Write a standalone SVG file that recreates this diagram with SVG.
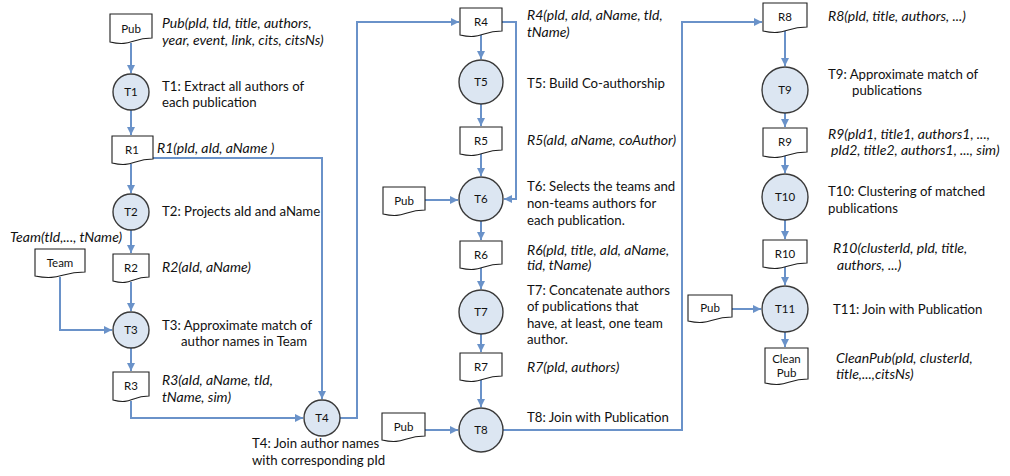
<svg xmlns="http://www.w3.org/2000/svg" width="1010" height="476" viewBox="0 0 1010 476">
<defs>
<marker id="ah" markerUnits="userSpaceOnUse" markerWidth="9" markerHeight="9" refX="8" refY="4.5" orient="auto">
<path d="M0,0.5 L8,4.5 L0,8.5 Z" fill="#6a92c9"/>
</marker>
<style>
.doc{fill:#ffffff;stroke:#1e1e1e;stroke-width:1.1}
.proc{fill:#dce6f2;stroke:#3a3a3a;stroke-width:1.4}
.con{fill:none;stroke:#6a92c9;stroke-width:2;marker-end:url(#ah)}
.nl{font-family:Lato,"Liberation Sans",sans-serif;font-size:11.5px;fill:#111;text-anchor:middle}
.lb{font-family:Lato,"Liberation Sans",sans-serif;font-size:13.2px;fill:#111}
.it{font-style:italic;font-size:14px}
</style>
</defs>
<rect width="1010" height="476" fill="#ffffff"/>

<g id="connectors">
<path class="con" d="M131,43 V73"/>
<path class="con" d="M131,110 V135"/>
<path class="con" d="M131,164 V193"/>
<path class="con" d="M131,230 V253"/>
<path class="con" d="M131,282 V311"/>
<path class="con" d="M131,348 V371"/>
<path class="con" d="M131,401 V418 H303"/>
<path class="con" d="M153,158 H322 V399"/>
<path class="con" d="M60,277 V330 H112"/>
<path class="con" d="M340,418 H357 V22 H459"/>
<path class="con" d="M481,35 V59"/>
<path class="con" d="M481,104 V126"/>
<path class="con" d="M481,154 V176"/>
<path class="con" d="M502,22 H516 V199 H504"/>
<path class="con" d="M425,200 H458"/>
<path class="con" d="M481,221 V240"/>
<path class="con" d="M481,268 V289"/>
<path class="con" d="M481,334 V352"/>
<path class="con" d="M481,380 V407"/>
<path class="con" d="M425,430 H458"/>
<path class="con" d="M503,430 H682 V22 H762"/>
<path class="con" d="M785,31 V66"/>
<path class="con" d="M785,113 V127"/>
<path class="con" d="M785,156 V173"/>
<path class="con" d="M785,220 V239"/>
<path class="con" d="M785,267 V285"/>
<path class="con" d="M732,309 H761"/>
<path class="con" d="M785,332 V347"/>
</g>

<g id="pub1"><path class="doc" d="M110,14 H152 V38 C131,38 131,47 110,42 Z"/><text class="nl" x="131" y="33">Pub</text></g>
<g id="t1"><circle class="proc" cx="131" cy="92" r="18"/><text class="nl" x="131" y="96">T1</text></g>
<g id="r1"><path class="doc" d="M112,136 H153 V159 C132.5,159 132.5,168 112,163 Z"/><text class="nl" x="132" y="154">R1</text></g>
<g id="t2"><circle class="proc" cx="131" cy="212" r="18"/><text class="nl" x="131" y="216">T2</text></g>
<g id="team"><path class="doc" d="M35,249 H85 V272 C60,272 60,281 35,276 Z"/><text class="nl" x="60" y="267">Team</text></g>
<g id="r2"><path class="doc" d="M113,254 H149 V277 C131,277 131,286 113,281 Z"/><text class="nl" x="131" y="272">R2</text></g>
<g id="t3"><circle class="proc" cx="131" cy="330" r="18"/><text class="nl" x="131" y="334">T3</text></g>
<g id="r3"><path class="doc" d="M113,372 H149 V396 C131,396 131,405 113,400 Z"/><text class="nl" x="131" y="390">R3</text></g>
<g id="t4"><circle class="proc" cx="322" cy="418" r="18"/><text class="nl" x="322" y="422">T4</text></g>

<g id="r4"><path class="doc" d="M460,8 H502 V31 C481,31 481,40 460,35 Z"/><text class="nl" x="481" y="26">R4</text></g>
<g id="t5"><circle class="proc" cx="481" cy="82" r="22"/><text class="nl" x="481" y="86">T5</text></g>
<g id="r5"><path class="doc" d="M460,127 H502 V150 C481,150 481,159 460,154 Z"/><text class="nl" x="481" y="145">R5</text></g>
<g id="pub2"><path class="doc" d="M383,187 H425 V210 C404,210 404,219 383,214 Z"/><text class="nl" x="404" y="205">Pub</text></g>
<g id="t6"><circle class="proc" cx="481" cy="199" r="22"/><text class="nl" x="481" y="203">T6</text></g>
<g id="r6"><path class="doc" d="M460,241 H502 V264 C481,264 481,273 460,268 Z"/><text class="nl" x="481" y="259">R6</text></g>
<g id="t7"><circle class="proc" cx="481" cy="312" r="22"/><text class="nl" x="481" y="316">T7</text></g>
<g id="r7"><path class="doc" d="M460,353 H502 V376 C481,376 481,385 460,380 Z"/><text class="nl" x="481" y="371">R7</text></g>
<g id="pub3"><path class="doc" d="M382,413 H425 V436 C403.5,436 403.5,445 382,440 Z"/><text class="nl" x="403.5" y="431">Pub</text></g>
<g id="t8"><circle class="proc" cx="481" cy="430" r="22"/><text class="nl" x="481" y="434">T8</text></g>

<g id="r8"><path class="doc" d="M763,3 H807 V27 C785,27 785,36 763,31 Z"/><text class="nl" x="785" y="21">R8</text></g>
<g id="t9"><circle class="proc" cx="785" cy="90" r="23"/><text class="nl" x="785" y="94">T9</text></g>
<g id="r9"><path class="doc" d="M763,128 H807 V152 C785,152 785,161 763,156 Z"/><text class="nl" x="785" y="146">R9</text></g>
<g id="t10"><circle class="proc" cx="785" cy="197" r="23"/><text class="nl" x="785" y="201">T10</text></g>
<g id="r10"><path class="doc" d="M763,240 H807 V263 C785,263 785,272 763,267 Z"/><text class="nl" x="785" y="258">R10</text></g>
<g id="pub4"><path class="doc" d="M688,295 H732 V317 C710,317 710,326 688,321 Z"/><text class="nl" x="710" y="312">Pub</text></g>
<g id="t11"><circle class="proc" cx="785" cy="309" r="23"/><text class="nl" x="785" y="313">T11</text></g>
<g id="cleanpub"><path class="doc" d="M765,348 H808 V379 C786.5,379 786.5,388 765,383 Z"/><text class="nl" x="786.5" y="363">Clean</text><text class="nl" x="786.5" y="377">Pub</text></g>

<g id="labels">
<text class="lb it" x="162" y="28">Pub(pId, tId, title, authors,</text>
<text class="lb it" x="162" y="45">year, event, link, cits, citsNs)</text>
<text class="lb" x="162" y="91">T1: Extract all authors of</text>
<text class="lb" x="162" y="107">each publication</text>
<text class="lb it" x="157" y="153">R1(pId, aId, aName )</text>
<text class="lb" x="162" y="216">T2: Projects aId and aName</text>
<text class="lb it" x="10" y="242">Team(tId,..., tName)</text>
<text class="lb it" x="162" y="272">R2(aId, aName)</text>
<text class="lb" x="162" y="330">T3: Approximate match of</text>
<text class="lb" x="181" y="346">author names in Team</text>
<text class="lb it" x="162" y="385">R3(aId, aName, tId,</text>
<text class="lb it" x="162" y="402">tName, sim)</text>
<text class="lb" x="252" y="448">T4: Join author names</text>
<text class="lb" x="252" y="465">with corresponding pId</text>

<text class="lb it" x="527" y="20">R4(pId, aId, aName, tId,</text>
<text class="lb it" x="527" y="37">tName)</text>
<text class="lb" x="527" y="88">T5: Build Co-authorship</text>
<text class="lb it" x="527" y="145">R5(aId, aName, coAuthor)</text>
<text class="lb" x="527" y="191">T6: Selects the teams and</text>
<text class="lb" x="527" y="208">non-teams authors for</text>
<text class="lb" x="527" y="225">each publication.</text>
<text class="lb it" x="527" y="255">R6(pId, title, aId, aName,</text>
<text class="lb it" x="527" y="270">tid, tName)</text>
<text class="lb" x="527" y="295">T7: Concatenate authors</text>
<text class="lb" x="527" y="311">of publications that</text>
<text class="lb" x="527" y="328">have, at least, one team</text>
<text class="lb" x="527" y="344">author.</text>
<text class="lb it" x="527" y="372">R7(pId, authors)</text>
<text class="lb" x="527" y="422">T8: Join with Publication</text>

<text class="lb it" x="828" y="21">R8(pId, title, authors, ...)</text>
<text class="lb" x="828" y="79">T9: Approximate match of</text>
<text class="lb" x="852" y="95">publications</text>
<text class="lb it" x="828" y="139">R9(pId1, title1, authors1, ...,</text>
<text class="lb it" x="831" y="155"> pId2, title2, authors1, ..., sim)</text>
<text class="lb" x="828" y="196">T10: Clustering of matched</text>
<text class="lb" x="828" y="213">publications</text>
<text class="lb it" x="833" y="253">R10(clusterId, pId, title,</text>
<text class="lb it" x="837" y="270">authors, ...)</text>
<text class="lb" x="833" y="314">T11: Join with Publication</text>
<text class="lb it" x="836" y="363">CleanPub(pId, clusterId,</text>
<text class="lb it" x="836" y="379">title,...,citsNs)</text>
</g>
</svg>
